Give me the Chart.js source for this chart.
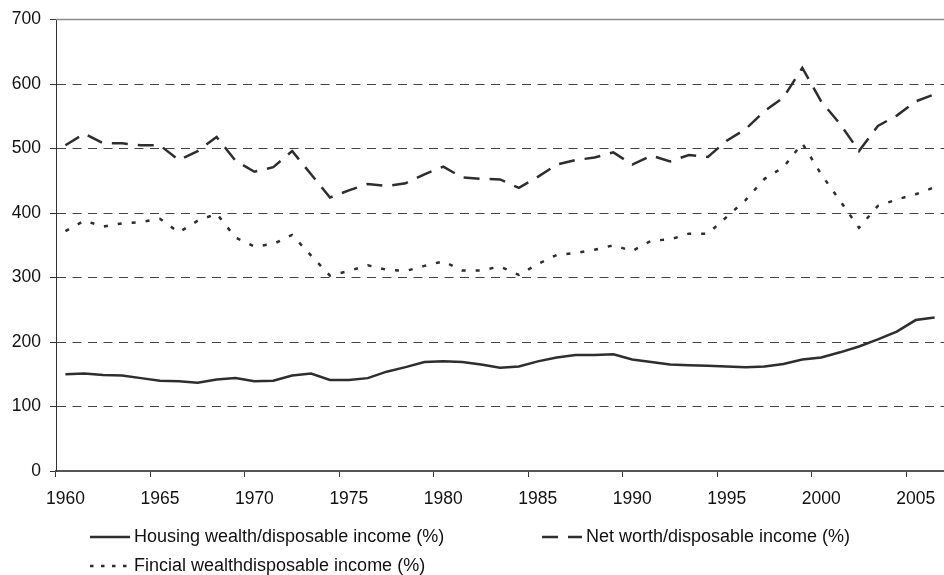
<!DOCTYPE html>
<html>
<head>
<meta charset="utf-8">
<script src="https://cdn.jsdelivr.net/npm/chart.js@4.4.1/dist/chart.umd.min.js"></script>
<style>
  html, body { margin: 0; padding: 0; background: #fff; }
  #wrap { width: 944px; height: 575px; position: relative; }
</style>
</head>
<body>
<div id="wrap"><canvas id="chart"></canvas></div>
<script>
'use strict';

// ── Data ──────────────────────────────────────────────────────────────────────

const years = [
  1960, 1961, 1962, 1963, 1964, 1965, 1966, 1967, 1968, 1969,
  1970, 1971, 1972, 1973, 1974, 1975, 1976, 1977, 1978, 1979,
  1980, 1981, 1982, 1983, 1984, 1985, 1986, 1987, 1988, 1989,
  1990, 1991, 1992, 1993, 1994, 1995, 1996, 1997, 1998, 1999,
  2000, 2001, 2002, 2003, 2004, 2005, 2006,
];

const housingWealth = [
  150, 151, 149, 148, 144, 140, 139, 137, 142, 144,
  139, 140, 148, 151, 141, 141, 144, 154, 161, 169,
  170, 169, 165, 160, 162, 170, 176, 180, 180, 181,
  173, 169, 165, 164, 163, 162, 161, 162, 166, 173,
  176, 184, 193, 204, 216, 234, 238,
];

const netWorth = [
  505, 523, 508, 508, 505, 505, 482, 496, 518, 481,
  464, 471, 496, 460, 424, 435, 445, 442, 446, 460,
  472, 455, 453, 452, 439, 456, 475, 482, 486, 494,
  475, 489, 480, 490, 487, 512, 530, 558, 579, 625,
  573, 538, 496, 535, 551, 573, 584,
];

const financialWealth = [
  372, 388, 379, 384, 386, 391, 370, 388, 399, 362,
  348, 352, 366, 334, 303, 310, 319, 312, 310, 318,
  325, 311, 311, 317, 304, 321, 335, 338, 343, 350,
  341, 357, 359, 368, 368, 394, 420, 453, 471, 508,
  460, 419, 377, 411, 421, 429, 440,
];

const seriesLabels = [
  'Housing wealth/disposable income (%)',
  'Net worth/disposable income (%)',
  'Fincial wealthdisposable income (%)',
];

const yTicks = { min: 0, max: 700, step: 100 };
const xLabelEvery = 5;

// ── Helpers ───────────────────────────────────────────────────────────────────

const FONT  = "'Liberation Sans', Arial, sans-serif";
const INK   = '#2e2e2e';
const DASH  = { housing: [], net: [16, 10], fin: [4, 10] };

function lineSet(label, vals, dash) {
  return {
    label,
    data: vals,
    borderColor: INK,
    borderWidth: 2.5,
    borderDash: dash,
    pointRadius: 0,
    tension: 0,
    fill: false,
  };
}

// ── Plugins: top frame line + legend underneath ───────────────────────────────

const topFrame = {
  id: 'topFrame',
  afterDraw(chart) {
    const { ctx, chartArea: a } = chart;
    ctx.save();
    ctx.strokeStyle = '#8a8a8a';
    ctx.lineWidth = 1.5;
    ctx.beginPath();
    ctx.moveTo(a.left, a.top);
    ctx.lineTo(a.right, a.top);
    ctx.stroke();
    ctx.restore();
  },
};

const legendSpots = [
  { ds: 0, x: 90,  y: 537, dash: [] },
  { ds: 1, x: 542, y: 537, dash: [16, 10] },
  { ds: 2, x: 90,  y: 566, dash: [3.5, 7.5] },
];

const bottomLegend = {
  id: 'bottomLegend',
  afterDraw(chart) {
    const { ctx } = chart;
    ctx.save();
    legendSpots.forEach(s => {
      const ds = chart.data.datasets[s.ds];
      ctx.strokeStyle = ds.borderColor;
      ctx.lineWidth = 2.5;
      ctx.setLineDash(s.dash);
      ctx.beginPath();
      ctx.moveTo(s.x, s.y);
      ctx.lineTo(s.x + 40, s.y);
      ctx.stroke();
      ctx.setLineDash([]);
      ctx.fillStyle = '#111';
      ctx.font = `18px ${FONT}`;
      ctx.textBaseline = 'middle';
      ctx.textAlign = 'left';
      ctx.fillText(ds.label, s.x + 44, s.y);
    });
    ctx.restore();
  },
};

// ── Chart ─────────────────────────────────────────────────────────────────────

const every5 = i => i % xLabelEvery === 0;

new Chart(document.getElementById('chart'), {
  type: 'line',
  data: {
    labels: years.map(String),
    datasets: [
      lineSet(seriesLabels[0], housingWealth, DASH.housing),
      lineSet(seriesLabels[1], netWorth, DASH.net),
      lineSet(seriesLabels[2], financialWealth, DASH.fin),
    ],
  },
  options: {
    responsive: true,
    maintainAspectRatio: false,
    animation: false,
    layout: { padding: { top: 19, left: 0, right: 0, bottom: 0 } },
    plugins: { legend: { display: false }, tooltip: { enabled: false } },
    scales: {
      x: {
        type: 'category',
        offset: true,
        afterFit: s => { s.height = 104; s.paddingLeft = 0; s.paddingRight = 0; },
        ticks: {
          autoSkip: false,
          maxRotation: 0,
          padding: 12,
          color: '#111',
          font: { family: FONT, size: 17.5 },
          callback: (v, i) => every5(i) ? years[i] : '',
        },
        grid: {
          offset: true,
          drawOnChartArea: false,
          drawTicks: true,
          tickLength: 6,
          tickColor: c => every5(c.index) && c.index < years.length ? '#333' : 'rgba(0,0,0,0)',
        },
        border: { display: true, color: '#555', width: 2 },
      },
      y: {
        min: yTicks.min,
        max: yTicks.max,
        afterFit: s => { s.width = 56; },
        ticks: {
          stepSize: yTicks.step,
          padding: 9,
          color: '#111',
          font: { family: FONT, size: 17.5 },
        },
        grid: {
          color: c => (c.tick && (c.tick.value === yTicks.min || c.tick.value === yTicks.max)) ? 'rgba(0,0,0,0)' : '#444',
          lineWidth: 1,
          drawTicks: true,
          tickLength: 6,
          tickColor: '#333',
        },
        border: { display: true, color: '#333', width: 1, dash: [9, 6.5] },
      },
    },
  },
  plugins: [topFrame, bottomLegend],
});
</script>
</body>
</html>
